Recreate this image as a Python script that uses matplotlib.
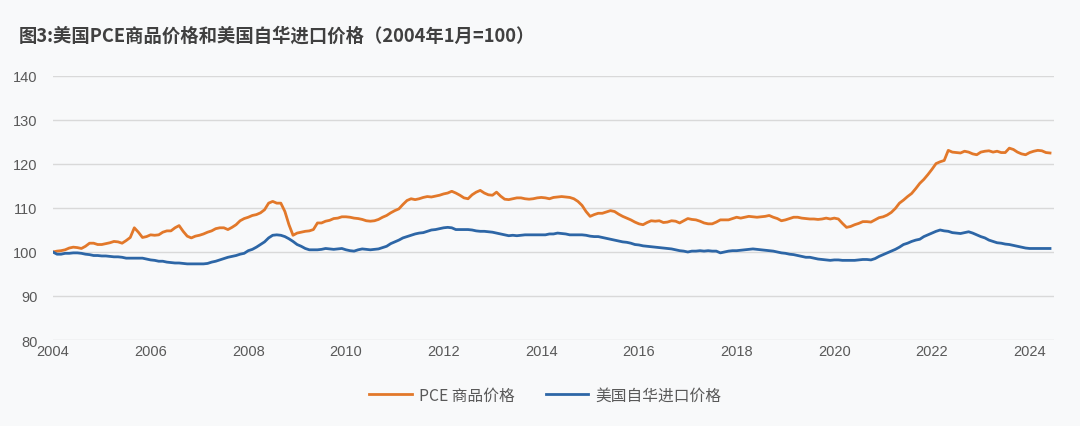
import matplotlib.pyplot as plt
import numpy as np

plt.rcParams['font.family'] = ['Noto Sans CJK SC', 'DejaVu Sans']

start_year = 2004
title = "图3:美国PCE商品价格和美国自华进口价格（2004年1月=100）"
labels = ["PCE 商品价格", "美国自华进口价格"]

# monthly index, 2004-01 .. 2024-06
pce_goods = [
    100.0, 100.2, 100.3, 100.5, 100.9, 101.1, 101.0, 100.8, 101.3, 102.0, 102.0, 101.7,
    101.7, 101.9, 102.1, 102.4, 102.3, 102.0, 102.6, 103.3, 105.5, 104.5, 103.3, 103.5,
    103.9, 103.8, 103.9, 104.5, 104.8, 104.8, 105.5, 106.0, 104.7, 103.6, 103.2, 103.6,
    103.8, 104.1, 104.5, 104.8, 105.3, 105.5, 105.5, 105.1, 105.6, 106.2, 107.1, 107.6,
    107.9, 108.3, 108.5, 108.9, 109.6, 111.1, 111.5, 111.1, 111.1, 109.2, 106.2, 103.8,
    104.3, 104.5, 104.7, 104.8, 105.1, 106.6, 106.6, 107.0, 107.2, 107.6, 107.7, 108.0,
    108.0, 107.9, 107.7, 107.6, 107.4, 107.1, 107.0, 107.1, 107.4, 107.9, 108.3, 108.9,
    109.4, 109.8, 110.8, 111.7, 112.1, 111.9, 112.1, 112.4, 112.6, 112.5, 112.7, 112.9,
    113.2, 113.4, 113.8, 113.4, 112.9, 112.3, 112.1, 113.0, 113.6, 114.0, 113.4, 113.0,
    112.9, 113.6, 112.7, 112.0, 111.9, 112.1, 112.3, 112.3, 112.1, 112.0, 112.1, 112.3,
    112.4, 112.3, 112.1, 112.4, 112.5, 112.6, 112.5, 112.4, 112.1, 111.5, 110.6, 109.2,
    108.1, 108.5, 108.8, 108.8, 109.1, 109.4, 109.2, 108.6, 108.1, 107.7, 107.3, 106.8,
    106.4, 106.2, 106.7, 107.1, 107.0, 107.1, 106.7, 106.8, 107.1, 107.0, 106.6, 107.1,
    107.6, 107.4, 107.3, 107.0, 106.6, 106.4, 106.4, 106.8, 107.3, 107.3, 107.3, 107.6,
    107.9, 107.7, 107.9, 108.1, 108.0, 107.9, 108.0, 108.1, 108.3, 107.9, 107.6, 107.1,
    107.3, 107.6, 107.9, 107.9, 107.7, 107.6, 107.5, 107.5, 107.4, 107.5, 107.7, 107.5,
    107.7, 107.5, 106.5, 105.6, 105.8, 106.2, 106.5, 106.9, 106.9, 106.8, 107.3, 107.8,
    108.0, 108.4, 109.0, 109.9, 111.1, 111.8, 112.6, 113.3, 114.4, 115.6, 116.5, 117.6,
    118.8, 120.1, 120.5, 120.8, 123.1, 122.7, 122.6, 122.5, 122.9, 122.7, 122.3, 122.1,
    122.7, 122.9, 123.0, 122.7, 122.9, 122.6, 122.6, 123.6, 123.3, 122.7, 122.3, 122.1,
    122.6, 122.9, 123.1, 123.0, 122.6, 122.5,
]

china_imports = [
    100.0, 99.5, 99.5, 99.7, 99.7, 99.8, 99.8, 99.7, 99.5, 99.4, 99.2, 99.2,
    99.1, 99.1, 99.0, 98.9, 98.9, 98.8, 98.6, 98.6, 98.6, 98.6, 98.6, 98.4,
    98.2, 98.1, 97.9, 97.9, 97.7, 97.6, 97.5, 97.5, 97.4, 97.3, 97.3, 97.3,
    97.3, 97.3, 97.4, 97.7, 97.9, 98.2, 98.5, 98.8, 99.0, 99.2, 99.5, 99.7,
    100.3, 100.6, 101.1, 101.7, 102.3, 103.2, 103.8, 103.9, 103.8, 103.5, 103.0, 102.4,
    101.7, 101.3, 100.8, 100.5, 100.5, 100.5, 100.6, 100.8, 100.7, 100.6, 100.7, 100.8,
    100.5, 100.3, 100.2, 100.5, 100.7, 100.6, 100.5, 100.6, 100.7, 101.0, 101.3, 101.9,
    102.3, 102.7, 103.2, 103.5, 103.8, 104.1, 104.3, 104.4, 104.7, 105.0, 105.1, 105.3,
    105.5, 105.6, 105.5, 105.1, 105.1, 105.1, 105.1, 105.0, 104.8, 104.7, 104.7, 104.6,
    104.5, 104.3, 104.1, 103.9, 103.7, 103.8, 103.7, 103.8, 103.9, 103.9, 103.9, 103.9,
    103.9, 103.9, 104.1, 104.1, 104.3, 104.2, 104.1, 103.9, 103.9, 103.9, 103.9, 103.8,
    103.6, 103.5, 103.5, 103.3, 103.1, 102.9, 102.7, 102.5, 102.3, 102.2, 102.0, 101.7,
    101.6, 101.4, 101.3, 101.2, 101.1, 101.0, 100.9, 100.8, 100.7, 100.5, 100.3, 100.2,
    100.0, 100.2, 100.2, 100.3, 100.2, 100.3, 100.2, 100.2, 99.8, 100.0, 100.2, 100.3,
    100.3, 100.4, 100.5, 100.6, 100.7, 100.6, 100.5, 100.4, 100.3, 100.2, 100.0, 99.8,
    99.7, 99.5, 99.4, 99.2, 99.0, 98.8, 98.8, 98.6, 98.4, 98.3, 98.2, 98.1,
    98.2, 98.2, 98.1, 98.1, 98.1, 98.1, 98.2, 98.3, 98.3, 98.2, 98.5, 99.0,
    99.4, 99.8, 100.2, 100.6, 101.1, 101.7, 102.0, 102.4, 102.7, 102.9, 103.5, 103.9,
    104.3, 104.7, 105.0, 104.8, 104.7, 104.4, 104.3, 104.2, 104.4, 104.6, 104.3, 103.9,
    103.5, 103.2, 102.7, 102.4, 102.1, 102.0, 101.8, 101.7, 101.5, 101.3, 101.1, 100.9,
    100.8, 100.8, 100.8, 100.8, 100.8, 100.8,
]

x_ticks = list(range(2004, 2025, 2))
y_ticks = list(range(80, 141, 10))

bg = '#f8f9fa'
orange = '#E2782A'
blue = '#2D66A6'
text_col = '#595959'

fig = plt.figure(figsize=(10.8, 4.27), dpi=100, facecolor=bg)
ax = fig.add_axes([0.049, 0.2014, 0.927, 0.6183], facecolor=bg)

months = start_year + np.arange(len(pce_goods)) / 12
ax.plot(months, pce_goods, color=orange, lw=2.0, label=labels[0])
ax.plot(months, china_imports, color=blue, lw=2.0, label=labels[1])

ax.set_xlim(2004, 2024.5)
ax.set_ylim(80, 140)
ax.set_xticks(x_ticks)
ax.set_yticks(y_ticks)
ax.tick_params(length=0, labelsize=10.5, labelcolor=text_col)
ax.tick_params(axis='x', pad=3)
ax.tick_params(axis='y', pad=11)
for lab in ax.get_xticklabels() + ax.get_yticklabels():
    lab.set_family('Liberation Sans')
ax.grid(axis='y', color='#d9d9d9', lw=1)
ax.set_axisbelow(True)
for s in ax.spines.values():
    s.set_visible(False)

fig.text(0.017, 0.916, title, fontsize=13.2, fontweight='bold', color='#404040',
         va='center', ha='left')

fig.legend(loc='center', bbox_to_anchor=(0.505, 0.072), ncol=2, frameon=False,
           prop={'size': 11.3}, labelcolor=text_col, handlelength=2.7,
           columnspacing=2.0, handletextpad=0.45)

fig.savefig('out.png', dpi=100, facecolor=bg)
